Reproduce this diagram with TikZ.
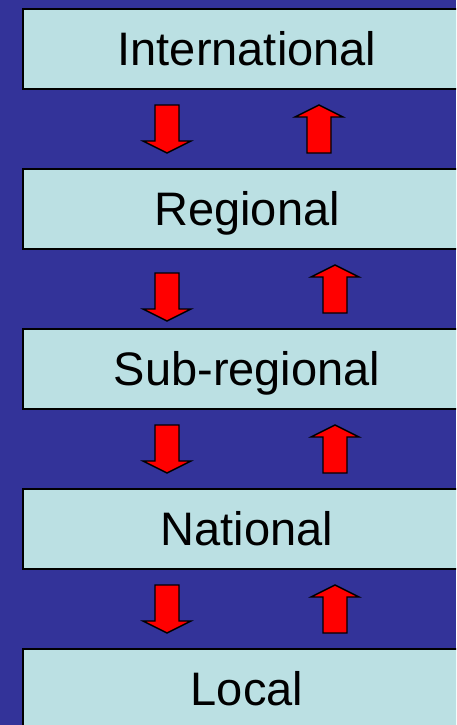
\documentclass[tikz,border=0pt]{standalone}
\usepackage{fontspec}
\setmainfont{Liberation Sans}
\usetikzlibrary{positioning}

\definecolor{slidebg}{HTML}{333399}
\definecolor{levelfill}{HTML}{BBE0E3}

\tikzset{
    levelbox/.style={draw=black, line width=1.3pt, fill=levelfill,
        minimum width=448pt, minimum height=80pt, inner sep=0pt, outer sep=0pt,
        text height=33.7pt, text depth=0pt,
        font=\fontsize{47}{56}\selectfont},
    blockarrow/.style={draw=black, line width=1.4pt, fill=red, line join=miter}
}

\begin{document}
\begin{tikzpicture}[x=1pt, y=-1pt]
        \useasboundingbox (0,0) rectangle (456,725);
        \clip (0,0) rectangle (456,725);
        \fill[slidebg] (0,0) rectangle (456,725);

        % the five levels
        \node[levelbox] (intl) at (247,49) {International};
        \node[levelbox, below=80pt of intl] (regional) {Regional};
        \node[levelbox, below=80pt of regional] (subregional) {Sub-regional};
        \node[levelbox, below=80pt of subregional] (national) {National};
        \node[levelbox, below=80pt of national] (local) {Local};

        % international <-> regional
        \draw[blockarrow] (155,105) -- (179,105) -- (179,141) -- (191,141) -- (167,153) -- (143,141) -- (155,141) -- cycle;
        \draw[blockarrow] (319,105) -- (343,117) -- (331,117) -- (331,153) -- (307,153) -- (307,117) -- (295,117) -- cycle;

        % regional <-> sub-regional
        \draw[blockarrow] (155,273) -- (179,273) -- (179,309) -- (191,309) -- (167,321) -- (143,309) -- (155,309) -- cycle;
        \draw[blockarrow] (335,265) -- (359,277) -- (347,277) -- (347,313) -- (323,313) -- (323,277) -- (311,277) -- cycle;

        % sub-regional <-> national
        \draw[blockarrow] (155,425) -- (179,425) -- (179,461) -- (191,461) -- (167,473) -- (143,461) -- (155,461) -- cycle;
        \draw[blockarrow] (335,425) -- (359,437) -- (347,437) -- (347,473) -- (323,473) -- (323,437) -- (311,437) -- cycle;

        % national <-> local
        \draw[blockarrow] (155,585) -- (179,585) -- (179,621) -- (191,621) -- (167,633) -- (143,621) -- (155,621) -- cycle;
        \draw[blockarrow] (335,585) -- (359,597) -- (347,597) -- (347,633) -- (323,633) -- (323,597) -- (311,597) -- cycle;

    \end{tikzpicture}
\end{document}
